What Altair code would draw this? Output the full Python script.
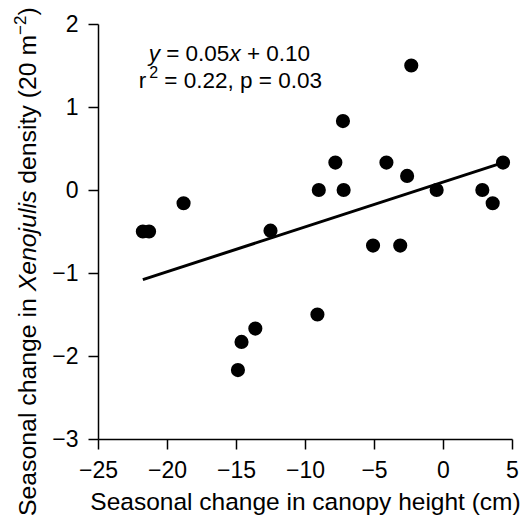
import altair as alt
import pandas as pd

# ---- data ----
x_vals = [-21.75, -21.3, -18.8, -14.86, -14.6, -13.6, -12.5, -9.1, -9.0, -7.8, -7.25,
          -7.2, -5.07, -4.1, -3.1, -2.6, -2.3, -0.46, 2.85, 3.6, 4.35]
y_vals = [-0.5, -0.5, -0.16, -2.17, -1.83, -1.67, -0.49, -1.5, 0.0, 0.33, 0.83,
          0.0, -0.67, 0.33, -0.67, 0.17, 1.5, 0.0, 0.0, -0.16, 0.33]
fit_x = [-21.75, 4.35]
fit_y = [-1.08, 0.33]
x_ticks = [-25, -20, -15, -10, -5, 0, 5]
y_ticks = [-3, -2, -1, 0, 1, 2]
x_title = "Seasonal change in canopy height (cm)"

FONT = "Liberation Sans"

# Arial / Liberation Sans advance widths (per 1000 em)
AW = {' ': 278, '=': 584, '+': 584, '.': 278, ',': 278, 'x': 500, 'y': 500,
      'r': 333, 'p': 556, '\u2212': 584, '(': 333, ')': 333, 'm': 833, 'S': 667, 'e': 556,
      'a': 556, 's': 500, 'o': 556, 'n': 556, 'l': 222, 'c': 500, 'h': 556, 'g': 556,
      'i': 222, 'X': 667, 'j': 222, 'u': 556, 'd': 556, 't': 278}
for ch in "0123456789":
    AW[ch] = 556


def tw(s, size):
    return sum(AW.get(c, 556) for c in s) * size / 1000.0


def split_lead(s, size):
    """Leading spaces are dropped when drawn, so turn them into an offset."""
    core = s.lstrip(" ")
    return core, tw(s[: len(s) - len(core)], size)


x_scale = alt.Scale(domain=[-25, 5], nice=False, zero=False)
y_scale = alt.Scale(domain=[-3, 2], nice=False, zero=False)
x_enc = alt.X("x:Q", scale=x_scale,
              axis=alt.Axis(values=x_ticks, title=x_title, titlePadding=8))
y_enc = alt.Y("y:Q", scale=y_scale, axis=alt.Axis(values=y_ticks, title=None))

df = pd.DataFrame({"x": x_vals, "y": y_vals})
fit = pd.DataFrame({"x": fit_x, "y": fit_y})

points = alt.Chart(df).mark_circle(size=200, color="black", opacity=1).encode(x=x_enc, y=y_enc)
line = alt.Chart(fit).mark_line(color="black", strokeWidth=3).encode(x=x_enc, y=y_enc)

layers = [line, points]

# ---- equation annotation (mixed italic), anchored in data coordinates ----
ann_x = -15.5          # anchor (data units)
ann_px = 229.4         # anchor's pixel position in the page
eq_size = 22.5
line1 = [("y", "italic", eq_size, 0, 0), (" = 0.05", "normal", eq_size, 0, 0),
         ("x", "italic", eq_size, 0, 0), (" + 0.10", "normal", eq_size, 0, 0)]
line2 = [("r", "normal", eq_size, 0, 0), ("2", "normal", 16, -10, 3),
         (" = 0.22, p = 0.03", "normal", eq_size, 0, 0)]
for pieces, y_data, start_px in [(line1, 1.56, 149), (line2, 1.23, 139)]:
    cur = start_px - ann_px
    for text, style, size, dy, gap in pieces:
        cur += gap
        core, lead = split_lead(text, size)
        d = pd.DataFrame({"x": [ann_x], "y": [y_data]})
        layers.append(
            alt.Chart(d).mark_text(text=core, font=FONT, fontSize=size, fontStyle=style,
                                   align="left", baseline="alphabetic", dx=cur + lead, dy=dy,
                                   color="black").encode(x=x_enc, y=y_enc))
        cur += tw(text, size)

# ---- y-axis title (mixed italic + superscript), rotated ----
yt_size = 24.8
y_pieces = [("Seasonal change in", "normal", yt_size, 0),
            (" Xenojulis", "italic", yt_size, 0),
            (" density (20 m", "normal", yt_size, 0),
            ("\u22122", "normal", 17, -10),
            (")", "normal", yt_size, 0)]
one = pd.DataFrame({"a": [0]})
cur = 0.0
for text, style, size, dy in y_pieces:
    core, lead = split_lead(text, size)
    layers.append(
        alt.Chart(one).mark_text(text=core, font=FONT, fontSize=size, fontStyle=style,
                                 align="left", baseline="alphabetic", angle=270,
                                 dx=cur + lead, dy=dy, color="black").encode(
            x=alt.value(-62), y=alt.value(492)))
    cur += tw(text, size)

chart = alt.layer(*layers).properties(
    width=414, height=415,
    autosize="none",
    padding={"left": 98, "top": 24, "right": 9, "bottom": 82},
    background="white",
).configure_view(stroke=None).configure_axis(
    grid=False, domainColor="black", domainWidth=1.5, tickColor="black", tickWidth=1.5,
    tickSize=10, labelFont=FONT, labelFontSize=23, labelColor="black", labelPadding=10,
    labelFlush=False, labelOverlap=False, titleFont=FONT, titleFontSize=24.5,
    titleFontWeight="normal", titleColor="black"
)

chart.save("out.html", embed_options={"renderer": "svg", "actions": False})
